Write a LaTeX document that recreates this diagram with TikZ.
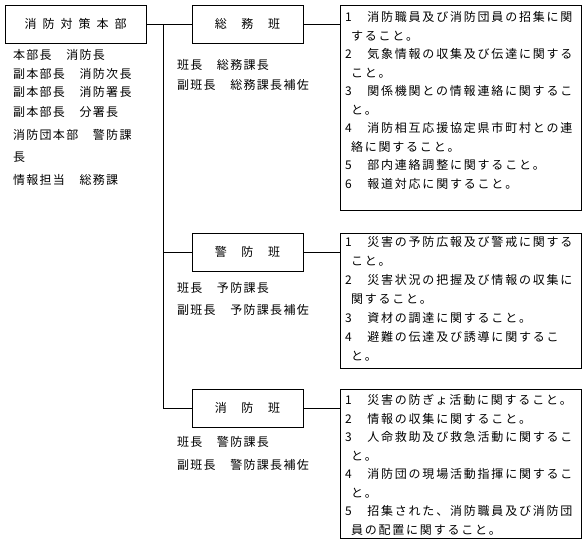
\documentclass[tikz,border=0pt]{standalone}
\usepackage{fontspec}
\setmainfont{Noto Sans CJK JP}
\newfontfamily\jpA{Noto Sans CJK JP}[LetterSpace=15]
\newfontfamily\jpB{Noto Sans CJK JP}[LetterSpace=11]
\XeTeXlinebreaklocale "ja"
\XeTeXlinebreakskip=0pt plus 2pt
\newcommand{\fullline}[1]{\makebox[232pt][s]{#1}}
\newcommand{\cont}{\hspace*{6pt}}
\newcommand{\gapA}{\hspace{6pt}}
\begin{document}
\begin{tikzpicture}[x=1pt,y=-1pt,
  every node/.style={inner sep=0pt, outer sep=0pt},
  conn/.style={line width=0.8pt},
  hqbox/.style={draw, line width=0.8pt, minimum width=141pt, minimum height=38pt, font=\fontsize{12}{14}\jpB},
  unitbox/.style={draw, line width=0.8pt, minimum width=111pt, minimum height=38pt, font=\fontsize{12}{14}\jpB},
  dutybox/.style={draw, line width=0.8pt, minimum width=241pt, anchor=north west},
  dutytext/.style={anchor=north west, align=left, font=\fontsize{12}{18.5}\jpA},
  stafftext/.style={anchor=north west, align=left, font=\fontsize{12}{18.5}\jpB}]
\useasboundingbox (0,0) rectangle (583,541);

% headquarters
\node[hqbox] (hq) at (75.5,24) {消\gapA 防\gapA 対\gapA 策\gapA 本\gapA 部};
\node[stafftext] (hqstaff) at (13,49.5) {本部長　消防長\\
副本部長　消防次長\\
副本部長　消防署長\\[1.5pt]
副本部長　分署長\\[4.5pt]
消防団本部　警防課\\[3.5pt]
長\\[4.5pt]
情報担当　総務課};

% units
\node[unitbox] (somu) at (247.5,24) {総　務　班};
\node[unitbox] (keibo) at (247.5,252) {警　防　班};
\node[unitbox] (shobo) at (247.5,408) {消　防　班};

\node[stafftext] (somustaff) at (177,59.5) {班長　総務課長\\[1.5pt]副班長　総務課長補佐};
\node[stafftext] (keibostaff) at (177,282.5) {班長　予防課長\\[3.5pt]副班長　予防課長補佐};
\node[stafftext] (shobostaff) at (177,436.5) {班長　警防課長\\[4.5pt]副班長　警防課長補佐};

% duty boxes
\node[dutybox, minimum height=205pt] (d1) at (340,5) {};
\node[dutybox, minimum height=135pt] (d2) at (340,233) {};
\node[dutybox, minimum height=149pt] (d3) at (340,389) {};

\node[dutytext] (d1t) at (345,11.5) {\fullline{1　消防職員及び消防団員の招集に関}\\
\cont すること。\\
\fullline{2　気象情報の収集及び伝達に関する}\\
\cont こと。\\
\fullline{3　関係機関との情報連絡に関するこ}\\
\cont と。\\
\fullline{4　消防相互応援協定県市町村との連}\\
\cont 絡に関すること。\\
5　部内連絡調整に関すること。\\
6　報道対応に関すること。};

\node[dutytext, font=\fontsize{12}{19}\jpA] (d2t) at (345,236.5) {\fullline{1　災害の予防広報及び警戒に関する}\\
\cont こと。\\
\fullline{2　災害状況の把握及び情報の収集に}\\
\cont 関すること。\\
3　資材の調達に関すること。\\
\fullline{4　避難の伝達及び誘導に関するこ}\\
\cont と。};

\node[dutytext] (d3t) at (345,394.5) {1　災害の防ぎょ活動に関すること。\\
2　情報の収集に関すること。\\
\fullline{3　人命救助及び救急活動に関するこ}\\
\cont と。\\
\fullline{4　消防団の現場活動指揮に関するこ}\\
\cont と。\\
\fullline{5　招集された、消防職員及び消防団}\\
\cont 員の配置に関すること。};

% connectors
\coordinate (vtop) at (163,24);
\draw[conn] (hq.east) -- (somu.west);
\draw[conn] (vtop) -- (vtop |- shobo.west) -- (shobo.west);
\draw[conn] (keibo.west) -- (keibo.west -| vtop);
\draw[conn] (somu.east) -- (somu.east -| d1.west);
\draw[conn] (keibo.east) -- (keibo.east -| d2.west);
\draw[conn] (shobo.east) -- (shobo.east -| d3.west);
\end{tikzpicture}
\end{document}
